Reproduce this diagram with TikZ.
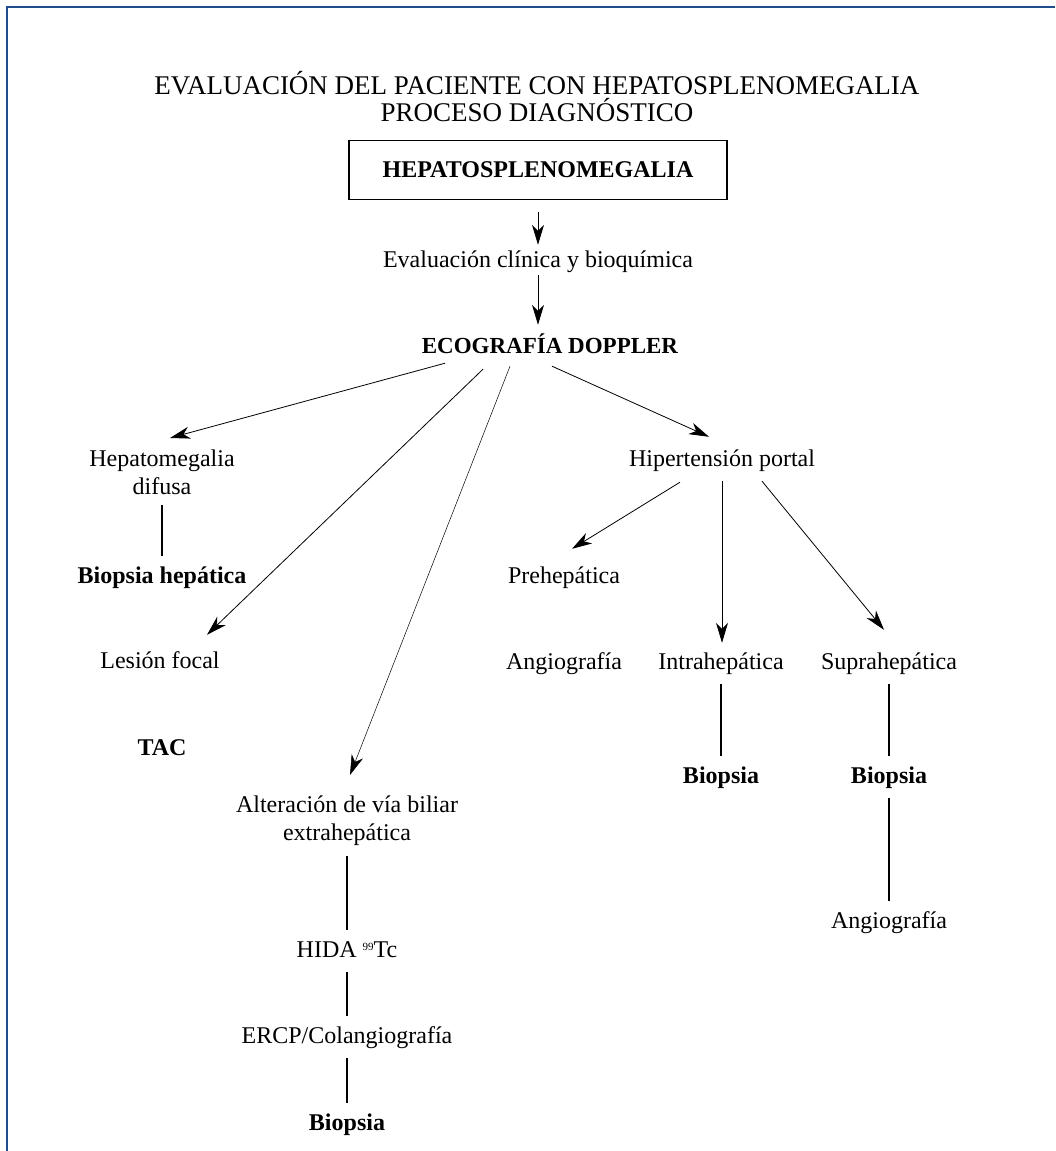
\documentclass[tikz,border=0pt]{standalone}
\usepackage{fontspec}
\setmainfont{Liberation Serif}
\usetikzlibrary{arrows.meta}
\definecolor{frameblue}{RGB}{31,78,140}

\begin{document}
\begin{tikzpicture}[x=1pt, y=-1pt,
    lbl/.style={font=\fontsize{24}{28}\selectfont, inner sep=0pt, anchor=base,
                text height=17pt, text depth=5pt},
    lbltwo/.style={font=\fontsize{24}{28}\selectfont, inner sep=0pt, anchor=north,
                   align=center},
    bold/.style={font=\fontsize{24}{28}\selectfont\bfseries},
    arr/.style={line width=0.8pt, -{Stealth[length=20pt, width=12pt, inset=6pt]}},
    link/.style={line width=1.7pt, shorten <=10pt, shorten >=10pt},
    frame/.style={draw=frameblue, line width=2pt}
]
    \useasboundingbox (0,0) rectangle (1055,1151);
    \draw[frame] (7,1151) -- (7,7) -- (1055,7);

    % Title
    \node[lbltwo, font=\fontsize{27}{27}\selectfont] (title) at (537,71)
        {EVALUACIÓN DEL PACIENTE CON HEPATOSPLENOMEGALIA\\PROCESO DIAGNÓSTICO};

    % Main trunk
    \node[draw, line width=1.2pt, minimum width=378pt, minimum height=59pt,
          inner sep=0pt, font=\fontsize{24}{28}\selectfont\bfseries] (hsm) at (538,170)
        {HEPATOSPLENOMEGALIA};
    \node[lbl] (clin) at (538,267) {Evaluación clínica y bioquímica};
    \node[lbl, bold, font=\fontsize{23}{28}\selectfont\bfseries] (eco) at (550,353)
        {ECOGRAFÍA DOPPLER};

    % Left branches
    \node[lbltwo] (hepd) at (162,450) {Hepatomegalia\\difusa};
    \node[lbl, bold] (biohep) at (162,583) {Biopsia hepática};
    \node[lbl] (focal) at (160,668) {Lesión focal};
    \node[lbl, bold] (tac) at (162,755) {TAC};
    \node[lbltwo] (biliar) at (347,796) {Alteración de vía biliar\\extrahepática};
    \node[lbl] (hida) at (347,957) {HIDA \raisebox{7pt}{\fontsize{11}{11}\selectfont 99}Tc};
    \node[lbl] (ercp) at (347,1043) {ERCP/Colangiografía};
    \node[lbl, bold] (biobil) at (347,1130) {Biopsia};

    % Portal hypertension branch
    \node[lbl] (portal) at (722,466) {Hipertensión portal};
    \node[lbl] (prehep) at (564,583) {Prehepática};
    \node[lbl] (angpre) at (564,669) {Angiografía};
    \node[lbl] (intrahep) at (721,669) {Intrahepática};
    \node[lbl] (suprahep) at (889,669) {Suprahepática};
    \node[lbl, bold] (bioint) at (721,783) {Biopsia};
    \node[lbl, bold] (biosup) at (889,783) {Biopsia};
    \node[lbl] (angsup) at (889,928) {Angiografía};

    % Arrows
    \draw[arr, shorten <=12pt, shorten >=5pt] (hsm.south) -- (clin.north);
    \draw[arr, shorten <=3pt, shorten >=11pt] (clin.south) -- (clin.south |- eco.north);
    \draw[arr] ([xshift=-105pt, yshift=-5pt]eco.south) -- ([xshift=8pt, yshift=12pt]hepd.north);
    \draw[arr] ([xshift=-67pt, yshift=-11pt]eco.south) -- ([xshift=47pt, yshift=16pt]focal.north);
    \draw[arr, line width=0.5pt] ([xshift=-40pt, yshift=-8pt]eco.south) -- ([xshift=3pt, yshift=21pt]biliar.north);
    \draw[arr] ([xshift=2pt, yshift=-8pt]eco.south) -- ([xshift=-13pt, yshift=12pt]portal.north);
    \draw[arr] ([xshift=-42pt, yshift=-11pt]portal.south) -- ([xshift=8pt, yshift=17pt]prehep.north);
    \draw[arr, shorten <=10pt, shorten >=9pt] (portal.south) -- (portal.south |- intrahep.north);
    \draw[arr] ([xshift=40pt, yshift=-10pt]portal.south) -- ([xshift=-5pt, yshift=22pt]suprahep.north);

    % Plain links
    \draw[link] (hepd) -- (biohep);
    \draw[link] (biliar) -- (hida);
    \draw[link] (hida) -- (ercp);
    \draw[link] (ercp) -- (biobil);
    \draw[link] (intrahep) -- (bioint);
    \draw[link] (suprahep) -- (biosup);
    \draw[link] (biosup) -- (angsup);
\end{tikzpicture}
\end{document}
